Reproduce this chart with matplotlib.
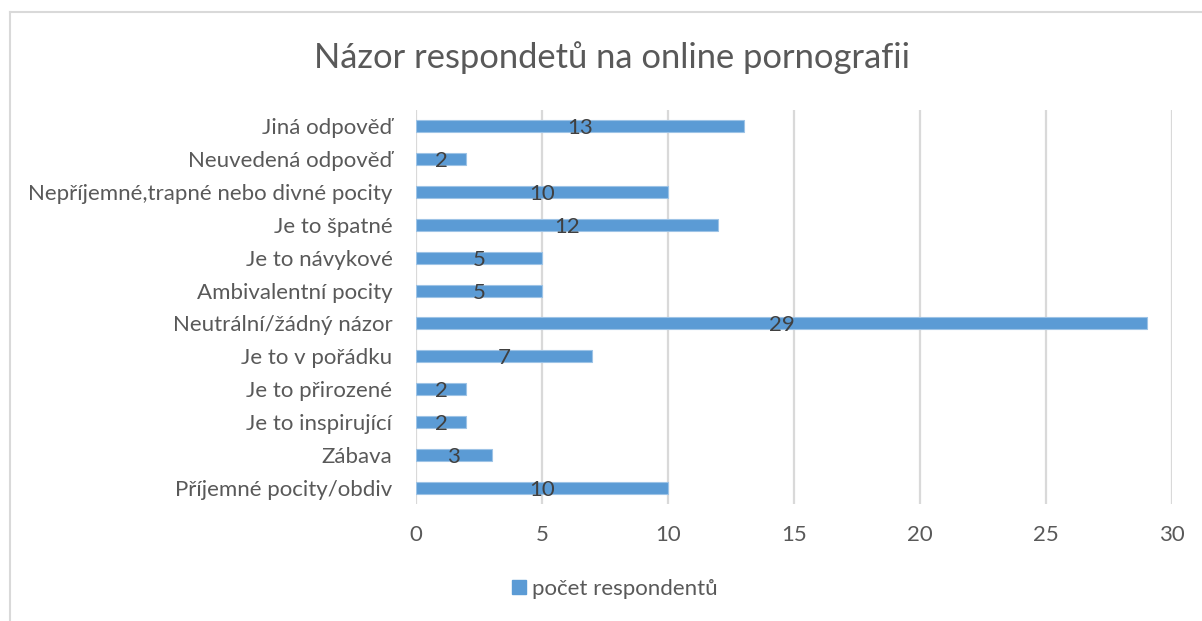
import matplotlib
matplotlib.use("Agg")
import matplotlib.pyplot as plt
from matplotlib.lines import Line2D
from matplotlib.patches import Patch

plt.rcParams['font.family'] = ['Lato', 'DejaVu Sans']

title = "Názor respondetů na online pornografii"
categories = [
    "Příjemné pocity/obdiv",
    "Zábava",
    "Je to inspirující",
    "Je to přirozené",
    "Je to v pořádku",
    "Neutrální/žádný názor",
    "Ambivalentní pocity",
    "Je to návykové",
    "Je to špatné",
    "Nepříjemné,trapné nebo divné pocity",
    "Neuvedená odpověď",
    "Jiná odpověď",
]
values = [10, 3, 2, 2, 7, 29, 5, 5, 12, 10, 2, 13]
series_name = "počet respondentů"
xticks = [0, 5, 10, 15, 20, 25, 30]

W, H = 1202, 621
fig = plt.figure(figsize=(W / 100, H / 100), dpi=100)
ax = fig.add_axes([416 / W, 1 - 504 / H, (1172 - 416) / W, (504 - 110) / H])

bar_color = "#5B9BD5"
ypos = list(range(len(categories)))
bars = ax.barh(ypos, values, height=0.37, color=bar_color,
               edgecolor="#9DC3E6", linewidth=0.8, zorder=3)

for b, v in zip(bars, values):
    ax.text(b.get_width() / 2, b.get_y() + b.get_height() / 2 - 0.06, str(v),
            ha="center", va="center", fontsize=16, color="#404040", zorder=4)

ax.set_xlim(0, 30)
ax.set_ylim(-0.5, len(categories) - 0.5)
ax.set_xticks(xticks)
ax.set_yticks(ypos)
ax.set_yticklabels(categories)
ax.tick_params(axis="y", length=0, pad=17, labelsize=16, labelcolor="#595959")
ax.tick_params(axis="x", length=0, pad=15, labelsize=16, labelcolor="#595959")
ax.grid(axis="x", color="#D9D9D9", linewidth=1.6, zorder=0)
for s in ax.spines.values():
    s.set_visible(False)

fig.text(612 / W, 1 - 58 / H, title, ha="center", va="center",
         fontsize=24.8, color="#595959")

handle = Patch(facecolor=bar_color, edgecolor=bar_color)
fig.legend([handle], [series_name], loc="center", bbox_to_anchor=(615 / W, 1 - 589 / H),
           frameon=False, fontsize=16, handlelength=0.6, handleheight=0.6,
           handletextpad=0.3, labelcolor="#595959")

fig.add_artist(Line2D([10 / W, 10 / W], [0, 1 - 12 / H], transform=fig.transFigure,
                      color="#D9D9D9", linewidth=1.5))
fig.add_artist(Line2D([10 / W, 1], [1 - 12 / H, 1 - 12 / H], transform=fig.transFigure,
                      color="#D9D9D9", linewidth=1.5))

fig.savefig("out.png", dpi=100, facecolor="white")
